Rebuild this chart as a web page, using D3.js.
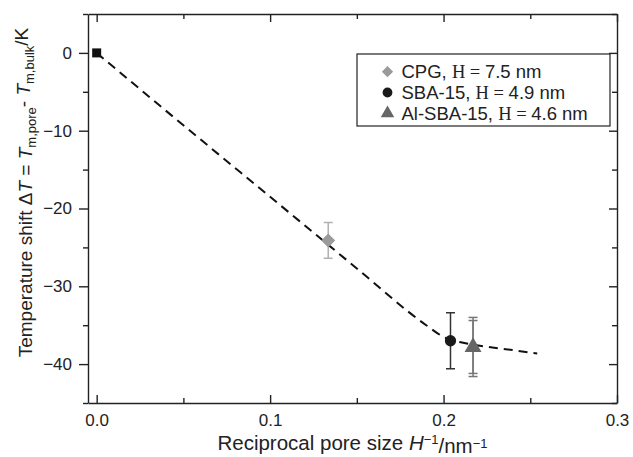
<!DOCTYPE html>
<html>
<head>
<meta charset="utf-8">
<script src="https://cdn.jsdelivr.net/npm/d3@7"></script>
<style>
  body { margin: 0; background: #fff; }
  text { font-family: "Liberation Sans", Arial, sans-serif; fill: #222; }
</style>
</head>
<body>
<div id="chart"></div>
<script>
// Dữ liệu
const xTicks = [0.0, 0.1, 0.2, 0.3];
const yTicks = [0, -10, -20, -30, -40];

// Điểm khối (H^-1 = 0)
const bulkPoint = [{ x: 0, y: 0 }];

// Các mẫu: tên, H, giá trị, sai số
const sampleNames = ["CPG", "SBA-15", "Al-SBA-15"];
const sampleH = ["7.5", "4.9", "4.6"];
const sampleX = [0.1335, 0.204, 0.217];
const sampleY = [-24.1, -37.0, -37.8];
const sampleErr = [[2.3], [3.6], [3.4, 3.8]];
const sampleColor = ["#9a9a9a", "#1a1a1a", "#666666"];
const errColor = ["#b0b0b0", "#333333", "#777777"];

// Đường nét đứt (đường khớp)
const fitX = [0, 0.05, 0.1, 0.15, 0.19, 0.2, 0.21, 0.22, 0.24, 0.254];
const fitY = [0, -9.3, -18.5, -27.7, -35.0, -36.5, -37.2, -37.6, -38.2, -38.65];

const W = 633, H = 457;
const margin = { top: 14, right: 16, bottom: 54, left: 88 };
const width = W - margin.left - margin.right;
const height = H - margin.top - margin.bottom;

const svg = d3.select("#chart").append("svg")
    .attr("width", W)
    .attr("height", H);

const g = svg.append("g")
    .attr("transform", `translate(${margin.left},${margin.top})`);

const x = d3.scaleLinear().domain([-0.005, 0.3]).range([0, width]);
const y = d3.scaleLinear().domain([-45, 5]).range([height, 0]);

const minorX = [0.05, 0.15, 0.25];
const minorY = [5, -5, -15, -25, -35, -45];

// Trục trái (vạch hướng ra ngoài)
g.append("g")
    .call(d3.axisLeft(y).tickValues(yTicks).tickSize(9).tickSizeOuter(0).tickPadding(7));
g.append("g")
    .call(d3.axisLeft(y).tickValues(minorY).tickSize(5).tickSizeOuter(0).tickFormat(""))
    .select(".domain").remove();

// Trục dưới (vạch hướng vào trong)
g.append("g")
    .attr("transform", `translate(0,${height})`)
    .call(d3.axisBottom(x).tickValues(xTicks).tickFormat(d3.format(".1f"))
        .tickSize(-8).tickSizeOuter(0).tickPadding(11));
g.append("g")
    .attr("transform", `translate(0,${height})`)
    .call(d3.axisBottom(x).tickValues(minorX).tickSize(-5).tickSizeOuter(0).tickFormat(""))
    .select(".domain").remove();

// Trục trên và phải
g.append("g")
    .call(d3.axisTop(x).tickValues(xTicks).tickSize(-8).tickSizeOuter(0).tickFormat(""));
g.append("g")
    .call(d3.axisTop(x).tickValues(minorX).tickSize(-5).tickSizeOuter(0).tickFormat(""))
    .select(".domain").remove();
g.append("g")
    .attr("transform", `translate(${width},0)`)
    .call(d3.axisRight(y).tickValues(yTicks).tickSize(-8).tickSizeOuter(0).tickFormat(""));
g.append("g")
    .attr("transform", `translate(${width},0)`)
    .call(d3.axisRight(y).tickValues(minorY).tickSize(-5).tickSizeOuter(0).tickFormat(""))
    .select(".domain").remove();

g.selectAll(".domain, .tick line")
    .attr("stroke", "#222")
    .attr("stroke-width", 1.4);
g.selectAll(".tick text")
    .style("font-size", "17px")
    .style("font-family", "Liberation Sans, Arial, sans-serif")
    .attr("fill", "#222");

// Đường nét đứt
const fitData = fitX.map((v, i) => ({ x: v, y: fitY[i] }));
g.append("path")
    .datum(fitData)
    .attr("fill", "none")
    .attr("stroke", "#111")
    .attr("stroke-width", 2)
    .attr("stroke-dasharray", "9,6")
    .attr("d", d3.line().x(d => x(d.x)).y(d => y(d.y)).curve(d3.curveMonotoneX));

// Điểm khối: hình vuông
g.selectAll(".bulk")
    .data(bulkPoint)
    .enter()
    .append("rect")
    .attr("x", d => x(d.x) - 4.5)
    .attr("y", d => y(d.y) - 4.5)
    .attr("width", 9)
    .attr("height", 9)
    .attr("fill", "#111");

// Thanh sai số
sampleX.forEach((sx, i) => {
    sampleErr[i].forEach(e => {
        const cx = x(sx);
        const eg = g.append("g").attr("stroke", errColor[i]).attr("stroke-width", 1.5);
        eg.append("line").attr("x1", cx).attr("x2", cx)
            .attr("y1", y(sampleY[i] + e)).attr("y2", y(sampleY[i] - e));
        [sampleY[i] + e, sampleY[i] - e].forEach(v => {
            eg.append("line").attr("x1", cx - 4.5).attr("x2", cx + 4.5)
                .attr("y1", y(v)).attr("y2", y(v));
        });
    });
});

// Ký hiệu các mẫu
const symbols = [d3.symbolDiamond2, d3.symbolCircle, d3.symbolTriangle];
const symSize = [125, 100, 125];
sampleX.forEach((sx, i) => {
    g.append("path")
        .attr("transform", `translate(${x(sx)},${y(sampleY[i])})`)
        .attr("d", d3.symbol().type(symbols[i]).size(symSize[i])())
        .attr("fill", sampleColor[i]);
});

// Chú giải
const legend = g.append("g")
    .attr("transform", `translate(${357 - margin.left},${54 - margin.top})`);
legend.append("rect")
    .attr("width", 253)
    .attr("height", 72)
    .attr("fill", "#fff")
    .attr("stroke", "#222")
    .attr("stroke-width", 1.2);
const legendSymSize = [80, 75, 80];
sampleNames.forEach((name, i) => {
    const row = legend.append("g")
        .attr("transform", `translate(0,${17.7 + i * 20.8})`);
    row.append("path")
        .attr("transform", "translate(30.5,0)")
        .attr("d", d3.symbol().type(symbols[i]).size(legendSymSize[i])())
        .attr("fill", sampleColor[i]);
    const t = row.append("text")
        .attr("x", 44.5)
        .attr("dy", "0.36em")
        .style("font-size", "18.5px");
    t.append("tspan").text(`${name}, `);
    t.append("tspan").style("font-family", "Liberation Serif, Times New Roman, serif").text("H = ");
    t.append("tspan").text(`${sampleH[i]} nm`);
});

// Tiêu đề trục X
const xt = svg.append("text")
    .attr("x", margin.left + width / 2)
    .attr("y", 450)
    .attr("text-anchor", "middle")
    .style("font-size", "20.5px");
xt.append("tspan").text("Reciprocal pore size ");
xt.append("tspan").style("font-style", "italic").text("H");
xt.append("tspan").attr("dy", "-0.45em").style("font-size", "13px").text("\u22121");
xt.append("tspan").attr("dy", "0.45em").text("/nm");
xt.append("tspan").attr("dy", "-0.45em").style("font-size", "13px").text("\u22121");

// Tiêu đề trục Y
const yt = svg.append("text")
    .attr("transform", `translate(32,${margin.top + height / 2 - 16}) rotate(-90)`)
    .attr("text-anchor", "middle")
    .style("font-size", "19px");
yt.append("tspan").text("Temperature shift \u0394");
yt.append("tspan").style("font-style", "italic").text("T");
yt.append("tspan").text(" = ");
yt.append("tspan").style("font-style", "italic").text("T");
yt.append("tspan").attr("dy", "0.3em").style("font-size", "13px").text("m,pore");
yt.append("tspan").attr("dy", "-0.3em").text("- ");
yt.append("tspan").style("font-style", "italic").text("T");
yt.append("tspan").attr("dy", "0.3em").style("font-size", "13px").text("m,bulk");
yt.append("tspan").attr("dy", "-0.3em").text("/K");
</script>
</body>
</html>
